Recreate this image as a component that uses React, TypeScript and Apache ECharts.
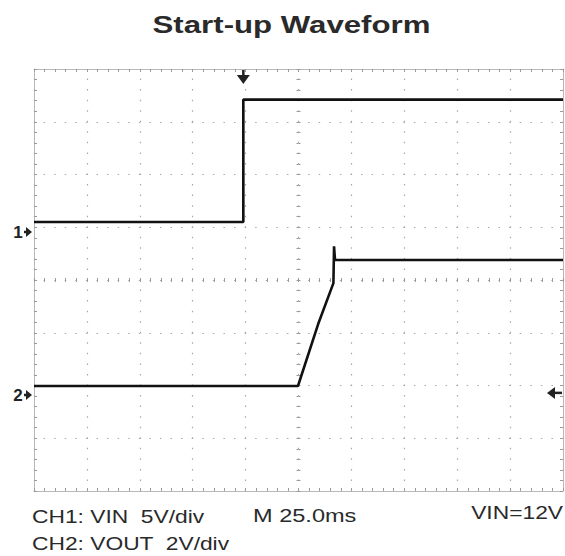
import React, { useEffect, useRef } from "react";
import * as echarts from "echarts";

// Scope screen: 10 horizontal divisions, 8 vertical divisions
const xRange = [0, 10];
const yRange = [0, 8];
const centerX = [-5, 5];
const centerY = [-4, 4];

// CH1: VIN (in divisions)
const ch1Time = [0, 3.957, 3.957, 10];
const ch1Level = [5.1, 5.1, 7.42, 7.42];
// CH2: VOUT (in divisions)
const ch2Time = [0, 4.99, 5.37, 5.66, 5.672, 5.69, 10];
const ch2Level = [1.99, 1.99, 3.16, 3.94, 4.64, 4.38, 4.38];

// Markers
const ch1Ground = 4.91;
const ch2Ground = 1.82;
const triggerTime = 3.957;
const triggerLevel = 1.86;

const titleText = "Start-up Waveform";
const footerLeft1 = "CH1: VIN  5V/div";
const footerLeft2 = "CH2: VOUT  2V/div";
const footerMid = "M 25.0ms";
const footerRight = "VIN=12V";

const GRID = { left: 34, top: 69, width: 529, height: 422 };
const BORDER = "#b8b8b8";
const TICK = "#9a9a9a";
const DOT = "#a8a8a8";

function pairs(xs: number[], ys: number[]) {
  return xs.map((x, i) => [x, ys[i]]);
}

export default function App() {
  const ref = useRef<HTMLDivElement>(null);
  useEffect(() => {
    const chart = echarts.init(ref.current!, null, { renderer: "svg" });
    const minorX = GRID.width / 50;
    const minorY = GRID.height / 40;
    const borderX = (position: string, split: boolean) => ({
      gridIndex: 0,
      type: "value",
      min: xRange[0],
      max: xRange[1],
      interval: 1,
      position,
      axisLine: { show: true, onZero: false, lineStyle: { color: BORDER, width: 1 } },
      axisTick: { show: true, inside: true, length: 3, lineStyle: { color: TICK } },
      minorTick: { show: true, splitNumber: 5, length: 3, lineStyle: { color: TICK } },
      axisLabel: { show: false },
      splitLine: split
        ? { show: true, lineStyle: { color: DOT, width: 1.2, type: [1.5, minorY - 1.5], dashOffset: 0.75 } }
        : { show: false },
    });
    const borderY = (position: string, split: boolean) => ({
      gridIndex: 0,
      type: "value",
      min: yRange[0],
      max: yRange[1],
      interval: 1,
      position,
      axisLine: { show: true, onZero: false, lineStyle: { color: BORDER, width: 1 } },
      axisTick: { show: true, inside: true, length: 3, lineStyle: { color: TICK } },
      minorTick: { show: true, splitNumber: 5, length: 3, lineStyle: { color: TICK } },
      axisLabel: { show: false },
      splitLine: split
        ? { show: true, lineStyle: { color: DOT, width: 1.2, type: [1.5, minorX - 1.5], dashOffset: 0.75 } }
        : { show: false },
    });
    const centerAxisX = (gridIndex: number, inside: boolean) => ({
      gridIndex,
      type: "value",
      min: centerX[0],
      max: centerX[1],
      interval: 1,
      axisLine: { show: true, onZero: true, lineStyle: { opacity: 0 } },
      axisTick: { show: true, inside, length: 2, lineStyle: { color: TICK } },
      minorTick: { show: true, splitNumber: 5, length: 2, lineStyle: { color: TICK } },
      axisLabel: { show: false },
      splitLine: { show: false },
    });
    const centerAxisY = (gridIndex: number, inside: boolean) => ({
      gridIndex,
      type: "value",
      min: centerY[0],
      max: centerY[1],
      interval: 1,
      axisLine: { show: true, onZero: true, lineStyle: { opacity: 0 } },
      axisTick: { show: true, inside, length: 2, lineStyle: { color: TICK } },
      minorTick: { show: true, splitNumber: 5, length: 2, lineStyle: { color: TICK } },
      axisLabel: { show: false },
      splitLine: { show: false },
    });

    chart.setOption({
      animation: false,
      backgroundColor: "#ffffff",
      grid: [GRID, GRID, GRID].map((g) => ({ ...g, containLabel: false })),
      xAxis: [
        borderX("bottom", true),
        borderX("top", false),
        centerAxisX(1, true),
        centerAxisX(2, false),
      ],
      yAxis: [
        borderY("left", true),
        borderY("right", false),
        centerAxisY(1, true),
        centerAxisY(2, false),
      ],
      series: [
        {
          name: "CH1",
          type: "line",
          xAxisIndex: 0,
          yAxisIndex: 0,
          data: pairs(ch1Time, ch1Level),
          showSymbol: false,
          lineStyle: { color: "#111", width: 2.6 },
          z: 5,
        },
        {
          name: "CH2",
          type: "line",
          xAxisIndex: 0,
          yAxisIndex: 0,
          data: pairs(ch2Time, ch2Level),
          showSymbol: false,
          lineStyle: { color: "#111", width: 2.6 },
          z: 5,
        },
      ],
    });

    const px = (x: number, y: number) =>
      chart.convertToPixel({ xAxisIndex: 0, yAxisIndex: 0 }, [x, y]) as number[];
    const y1 = px(0, ch1Ground)[1];
    const y2 = px(0, ch2Ground)[1];
    const tx = px(triggerTime, 0)[0];
    const ty = px(0, triggerLevel)[1];
    const left = GRID.left;
    const top = GRID.top;
    const right = GRID.left + GRID.width;

    const chMarker = (label: string, y: number) => [
      {
        type: "text",
        x: left - 16,
        y: y + 1,
        style: {
          text: label,
          x: 0,
          y: 0,
          textAlign: "center",
          textVerticalAlign: "middle",
          font: "bold 17px 'Liberation Sans', Arial, sans-serif",
          fill: "#222",
        },
      },
      {
        type: "polygon",
        shape: { points: [[left - 8, y - 5], [left - 2, y], [left - 8, y + 5]] },
        style: { fill: "#222" },
      },
      {
        type: "line",
        shape: { x1: left - 10, y1: y, x2: left - 6, y2: y },
        style: { stroke: "#222", lineWidth: 2.5 },
      },
    ];

    const textEl = (
      text: string,
      x: number,
      y: number,
      font: string,
      align: string,
      scaleX: number
    ) => ({
      type: "text",
      x,
      y,
      scaleX,
      style: {
        text,
        x: 0,
        y: 0,
        textAlign: align,
        textVerticalAlign: "middle",
        font,
        fill: "#2a2a2a",
      },
    });
    const footFont = "19px 'Liberation Sans', Arial, sans-serif";

    chart.setOption({
      graphic: [
        textEl(titleText, 291.5, 24.5, "bold 24px 'Liberation Sans', Arial, sans-serif", "center", 1.3),
        textEl(footerLeft1, 32, 516, footFont, "left", 1.2),
        textEl(footerLeft2, 32, 543.5, footFont, "left", 1.2),
        textEl(footerMid, 253, 515.5, footFont, "left", 1.24),
        textEl(footerRight, 563, 512, footFont, "right", 1.2),
        ...chMarker("1", y1),
        ...chMarker("2", y2),
        // trigger time arrow (top)
        {
          type: "line",
          shape: { x1: tx, y1: top, x2: tx, y2: top + 8 },
          style: { stroke: "#222", lineWidth: 2.5 },
        },
        {
          type: "polygon",
          shape: { points: [[tx - 6.5, top + 6], [tx + 6.5, top + 6], [tx, top + 15]] },
          style: { fill: "#222" },
        },
        // trigger level arrow (right)
        {
          type: "polygon",
          shape: { points: [[right - 16, ty], [right - 8, ty - 6], [right - 8, ty + 6]] },
          style: { fill: "#222" },
        },
        {
          type: "line",
          shape: { x1: right - 9, y1: ty, x2: right - 1, y2: ty },
          style: { stroke: "#222", lineWidth: 2.5 },
        },
      ],
    });

    return () => chart.dispose();
  }, []);
  return (
    <div
      ref={ref}
      style={{ position: "fixed", left: 0, top: 0, width: 565, height: 556 }}
    />
  );
}
